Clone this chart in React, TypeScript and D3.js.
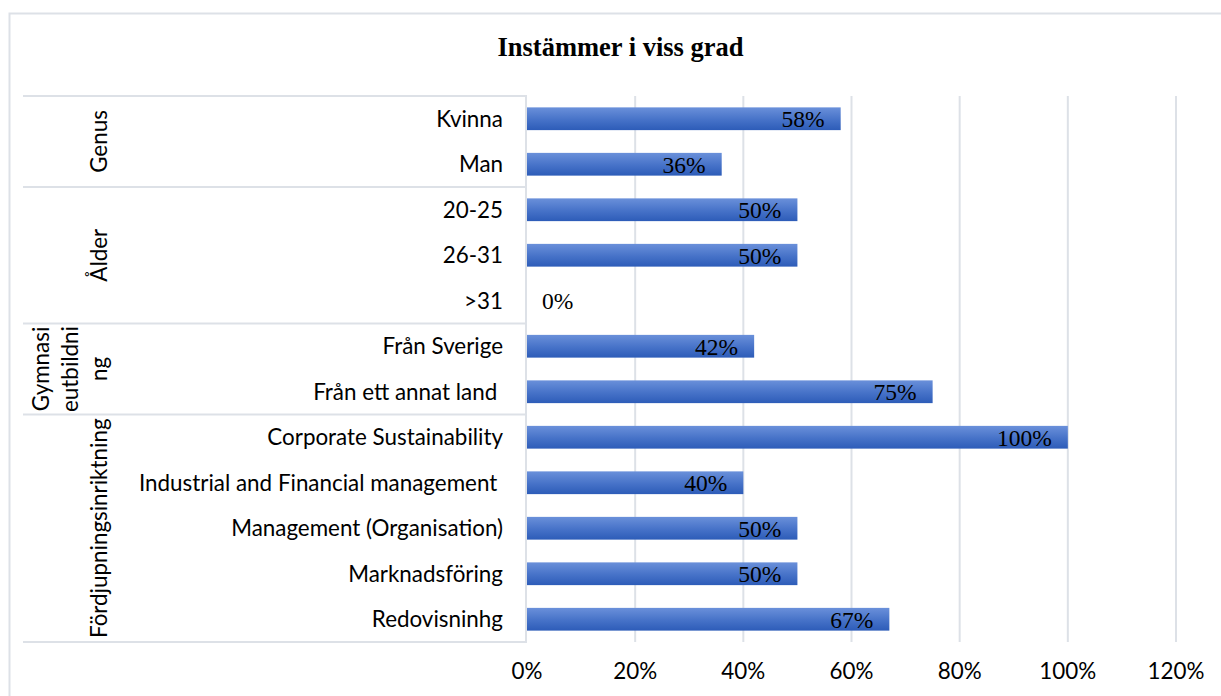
import { scaleLinear, scaleBand } from "d3";

const categories = [
  "Kvinna",
  "Man",
  "20-25",
  "26-31",
  ">31",
  "Från Sverige",
  "Från ett annat land ",
  "Corporate Sustainability",
  "Industrial and Financial management ",
  "Management (Organisation)",
  "Marknadsföring",
  "Redovisninhg",
];
const values = [0.58, 0.36, 0.5, 0.5, 0, 0.42, 0.75, 1, 0.4, 0.5, 0.5, 0.67];
const groupNames = ["Genus", "Ålder", "Gymnasieutbildning", "Fördjupningsinriktning"];
const groupSizes = [2, 3, 2, 5];
// the chart wraps this group label into three lines
const groupLines = [["Genus"], ["Ålder"], ["Gymnasi", "eutbildni", "ng"], ["Fördjupningsinriktning"]];
const xTicks = [0, 0.2, 0.4, 0.6, 0.8, 1, 1.2];

const SANS = "Lato, 'Noto Sans', sans-serif";
const SERIF = "'Liberation Serif', 'DejaVu Serif', serif";
const LINE = "#dde1e7";
const FS = 22.4;

export default function App() {
  const W = 1221;
  const H = 696;
  const left = 527;
  const right = 1176;
  const top = 96;
  const bottom = 642;
  const tableLeft = 23;

  const x = scaleLinear().domain([0, 1.2]).range([left, right]);
  const y = scaleBand<string>().domain(categories).range([top, bottom]).paddingInner(0.5).paddingOuter(0.25);
  const step = y.step();

  // group boundaries
  let acc = 0;
  const groups = groupNames.map((name, i) => {
    const y0 = top + acc * step;
    acc += groupSizes[i];
    const y1 = top + acc * step;
    return { name, y0, y1, lines: groupLines[i] };
  });

  const lineX = [[99], [99], [41, 70, 99], [99]];

  return (
    <div style={{ position: "absolute", left: 0, top: 0 }}>
      <svg width={W} height={H} style={{ display: "block", background: "#fff" }}>
        <defs>
          <linearGradient id="barGrad" x1="0" y1="0" x2="0" y2="1">
            <stop offset="0%" stopColor="#6a90da" />
            <stop offset="55%" stopColor="#4672c8" />
            <stop offset="100%" stopColor="#2d5cb8" />
          </linearGradient>
        </defs>

        {/* outer border */}
        <rect x={9.5} y={13.5} width={1230} height={720} fill="#fff" stroke={LINE} strokeWidth={2} />

        {/* title */}
        <text x={620.5} y={56} textAnchor="middle" fontFamily={SERIF} fontWeight="bold" fontSize={26.5} fill="#000">
          Instämmer i viss grad
        </text>

        {/* gridlines */}
        {xTicks.slice(1).map((t) => (
          <line key={t} x1={x(t)} x2={x(t)} y1={top} y2={bottom} stroke={LINE} strokeWidth={2} />
        ))}

        {/* category table */}
        {groups.map((g) => (
          <line key={"h" + g.name} x1={tableLeft} x2={left} y1={g.y0} y2={g.y0} stroke={LINE} strokeWidth={2} />
        ))}
        <line x1={tableLeft} x2={left} y1={bottom} y2={bottom} stroke={LINE} strokeWidth={2} />
        <line x1={left - 1} x2={left - 1} y1={top} y2={bottom} stroke={LINE} strokeWidth={2} />

        {/* group labels */}
        {groups.map((g, i) =>
          g.lines.map((ln, j) => (
            <text
              key={g.name + j}
              transform={`translate(${lineX[i][j]},${(g.y0 + g.y1) / 2}) rotate(-90)`}
              textAnchor="middle"
              dy="0.35em"
              fontFamily={SANS}
              fontSize={FS}
              fill="#000"
            >
              {ln}
            </text>
          ))
        )}

        {/* category labels */}
        {categories.map((c) => (
          <text
            key={c}
            x={503}
            y={(y(c) ?? 0) + y.bandwidth() / 2}
            dy="0.36em"
            textAnchor="end"
            fontFamily={SANS}
            fontSize={FS}
            fill="#000"
            style={{ whiteSpace: "pre" }}
          >
            {c}
          </text>
        ))}

        {/* bars */}
        {categories.map((c, i) => (
          <rect
            key={c}
            x={x(0)}
            y={y(c)}
            width={x(values[i]) - x(0)}
            height={y.bandwidth()}
            fill="url(#barGrad)"
          />
        ))}

        {/* data labels */}
        {categories.map((c, i) => {
          const v = values[i];
          const cy = (y(c) ?? 0) + y.bandwidth() / 2;
          const lbl = `${Math.round(v * 100)}%`;
          return v > 0 ? (
            <text key={c} x={x(v) - 16} y={cy} dy="0.36em" textAnchor="end" fontFamily={SERIF} fontSize={23.5} fill="#000">
              {lbl}
            </text>
          ) : (
            <text key={c} x={x(0) + 15} y={cy} dy="0.36em" textAnchor="start" fontFamily={SERIF} fontSize={23.5} fill="#000">
              {lbl}
            </text>
          );
        })}

        {/* x axis labels */}
        {xTicks.map((t) => (
          <text key={t} x={x(t)} y={679} textAnchor="middle" fontFamily={SANS} fontSize={FS} fill="#000">
            {`${Math.round(t * 100)}%`}
          </text>
        ))}
      </svg>
    </div>
  );
}
